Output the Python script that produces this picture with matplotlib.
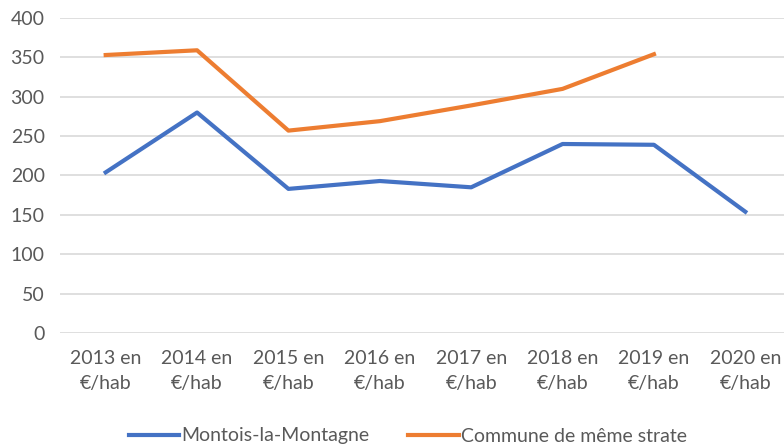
import matplotlib.pyplot as plt
import numpy as np

plt.rcParams['font.family'] = ['Lato', 'DejaVu Sans']

annees = ["2013", "2014", "2015", "2016", "2017", "2018", "2019", "2020"]
labels = [a + " en\n€/hab" for a in annees]
montois = [204, 280, 183, 193, 185, 240, 239, 154]
strate = [353, 359, 257, 269, 289, 310, 354, np.nan]

fig = plt.figure(figsize=(7.84, 4.46), dpi=100)
# plot area runs past the right edge, like the cropped original
ax = fig.add_axes([60 / 784, 113 / 446, 731 / 784, 315 / 446])

x = np.arange(len(annees))
ax.plot(x, montois, color='#4472C4', lw=3.0, label='Montois-la-Montagne', solid_joinstyle='round')
ax.plot(x, strate, color='#ED7D31', lw=3.0, label='Commune de même strate', solid_joinstyle='round')

ax.set_xlim(-0.5, len(annees) - 0.5)
ax.set_ylim(0, 400)
ax.set_yticks(range(0, 401, 50))
ax.set_xticks(x)
ax.set_xticklabels(labels, linespacing=1.6)
ax.yaxis.grid(True, color='#D9D9D9', lw=1.2)
ax.set_axisbelow(True)
for s in ax.spines.values():
    s.set_visible(False)
ax.tick_params(length=0, labelsize=14, colors='#595959')
ax.tick_params(axis='y', pad=11)
ax.tick_params(axis='x', pad=12)

fig.legend(loc='center', bbox_to_anchor=(0.52, 10 / 446), ncol=2, frameon=False,
           fontsize=14, handlelength=2.6, handletextpad=0.1, columnspacing=2.0,
           labelcolor='#595959')

fig.savefig('out.png', dpi=100)
